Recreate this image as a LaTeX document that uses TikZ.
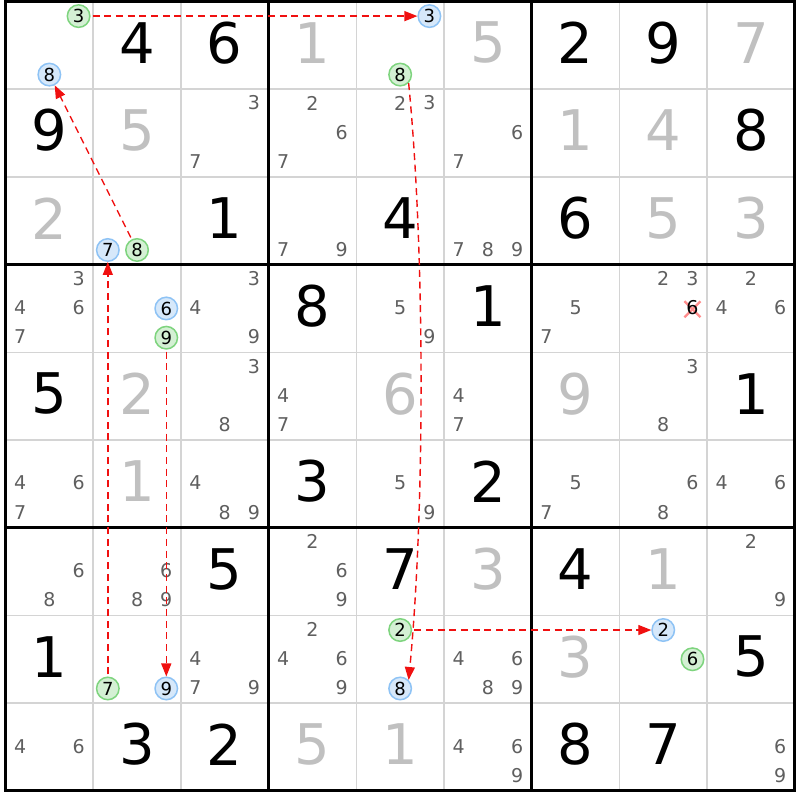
\documentclass[tikz,border=0pt]{standalone}
\usepackage{fontspec}
\setmainfont{DejaVu Sans}
\usetikzlibrary{arrows.meta}
\definecolor{candc}{HTML}{5F5F5F}
\definecolor{solvedc}{HTML}{C0C0C0}
\definecolor{gridc}{HTML}{D4D4D4}
\definecolor{grfill}{HTML}{D4F0D4}
\definecolor{grline}{HTML}{7ED47E}
\definecolor{blfill}{HTML}{D6E8FA}
\definecolor{blline}{HTML}{8EC3F5}
\definecolor{chainc}{HTML}{F01010}
\def\xo{5.5}
\def\yo{1.5}
\def\cs{87.7}
\newcommand\sgGiven[3]{\node[givenst] (g#1#2) at ({\xo+(#2-0.5)*\cs},{\yo+(#1-0.5)*\cs}) {#3};}
\newcommand\sgSolved[3]{\node[solvedst] (s#1#2) at ({\xo+(#2-0.5)*\cs},{\yo+(#1-0.5)*\cs}) {#3};}
\newcommand\sgCands[3]{\foreach \dd in {#3} {%
  \pgfmathtruncatemacro\co{mod(\dd-1,3)}%
  \pgfmathtruncatemacro\ro{floor((\dd-1)/3)}%
  \node[candst] (k#1#2\dd) at ({\xo+(#2-1)*\cs+(2*\co+1)*\cs/6},{\yo+(#1-1)*\cs+(2*\ro+1)*\cs/6}) {\dd};}}
\newcommand\sgHl[4]{%
  \pgfmathtruncatemacro\co{mod(#4-1,3)}%
  \pgfmathtruncatemacro\ro{floor((#4-1)/3)}%
  \node[#1] (h#2#3#4) at ({\xo+(#3-1)*\cs+(2*\co+1)*\cs/6},{\yo+(#2-1)*\cs+(2*\ro+1)*\cs/6}) {#4};}
\begin{document}
\begin{tikzpicture}[x=1pt,y=-1pt,
  givenst/.style={font=\fontsize{56}{56}\selectfont, text=black, inner sep=0pt, yshift=2.5pt},
  solvedst/.style={font=\fontsize{56}{56}\selectfont, text=solvedc, inner sep=0pt, yshift=2.5pt},
  candst/.style={font=\fontsize{19}{19}\selectfont, text=candc, inner sep=0pt, yshift=0.8pt},
  hlg/.style={circle, draw=grline, fill=grfill, line width=1.5pt, minimum size=22.5pt, inner sep=0pt, font=\fontsize{18}{18}\selectfont, text=black},
  hlb/.style={circle, draw=blline, fill=blfill, line width=1.5pt, minimum size=22.5pt, inner sep=0pt, font=\fontsize{18}{18}\selectfont, text=black},
  chain/.style={draw=chainc, line width=1.4pt, dash pattern=on 7pt off 4.7pt, -{Triangle[length=13pt,width=10pt]}},
  thinline/.style={draw=gridc, line width=1.6pt},
  thickline/.style={draw=black, line width=3pt},
  xmark/.style={draw=red!45, line width=2.2pt}
]
\useasboundingbox[fill=white] (0,0) rectangle (800,800);
% grid
\foreach \i in {1,2,4,5,7,8} {
  \draw[thinline] ({\xo+\i*\cs},\yo) -- ({\xo+\i*\cs},{\yo+9*\cs});
  \draw[thinline] (\xo,{\yo+\i*\cs}) -- ({\xo+9*\cs},{\yo+\i*\cs});
}
\foreach \i in {0,3,6,9} {
  \draw[thickline] ({\xo+\i*\cs},{\yo-1.5}) -- ({\xo+\i*\cs},{\yo+9*\cs+1.5});
  \draw[thickline] ({\xo-1.5},{\yo+\i*\cs}) -- ({\xo+9*\cs+1.5},{\yo+\i*\cs});
}
% row 1
\sgGiven{1}{2}{4} \sgGiven{1}{3}{6} \sgSolved{1}{4}{1} \sgSolved{1}{6}{5}
\sgGiven{1}{7}{2} \sgGiven{1}{8}{9} \sgSolved{1}{9}{7}
% row 2
\sgGiven{2}{1}{9} \sgSolved{2}{2}{5} \sgCands{2}{3}{3,7} \sgCands{2}{4}{2,6,7}
\sgCands{2}{5}{2,3} \sgCands{2}{6}{6,7} \sgSolved{2}{7}{1} \sgSolved{2}{8}{4} \sgGiven{2}{9}{8}
% row 3
\sgSolved{3}{1}{2} \sgGiven{3}{3}{1} \sgCands{3}{4}{7,9} \sgGiven{3}{5}{4}
\sgCands{3}{6}{7,8,9} \sgGiven{3}{7}{6} \sgSolved{3}{8}{5} \sgSolved{3}{9}{3}
% row 4
\sgCands{4}{1}{3,4,6,7} \sgCands{4}{3}{3,4,9} \sgGiven{4}{4}{8} \sgCands{4}{5}{5,9}
\sgGiven{4}{6}{1} \sgCands{4}{7}{5,7} \sgCands{4}{8}{2,3} \sgCands{4}{9}{2,4,6}
\coordinate (c486) at ({\xo+7*\cs+5*\cs/6},{\yo+3*\cs+3*\cs/6});
\draw[xmark] ([shift={(-8,-7.2)}]c486) -- ([shift={(8,8.8)}]c486);
\draw[xmark] ([shift={(-8,8.8)}]c486) -- ([shift={(8,-7.2)}]c486);
\node[candst, text=black] (x486) at (c486) {6};
% row 5
\sgGiven{5}{1}{5} \sgSolved{5}{2}{2} \sgCands{5}{3}{3,8} \sgCands{5}{4}{4,7}
\sgSolved{5}{5}{6} \sgCands{5}{6}{4,7} \sgSolved{5}{7}{9} \sgCands{5}{8}{3,8} \sgGiven{5}{9}{1}
% row 6
\sgCands{6}{1}{4,6,7} \sgSolved{6}{2}{1} \sgCands{6}{3}{4,8,9} \sgGiven{6}{4}{3}
\sgCands{6}{5}{5,9} \sgGiven{6}{6}{2} \sgCands{6}{7}{5,7} \sgCands{6}{8}{6,8} \sgCands{6}{9}{4,6}
% row 7
\sgCands{7}{1}{6,8} \sgCands{7}{2}{6,8,9} \sgGiven{7}{3}{5} \sgCands{7}{4}{2,6,9}
\sgGiven{7}{5}{7} \sgSolved{7}{6}{3} \sgGiven{7}{7}{4} \sgSolved{7}{8}{1} \sgCands{7}{9}{2,9}
% row 8
\sgGiven{8}{1}{1} \sgCands{8}{3}{4,7,9} \sgCands{8}{4}{2,4,6,9} \sgCands{8}{6}{4,6,8,9}
\sgSolved{8}{7}{3} \sgGiven{8}{9}{5}
% row 9
\sgCands{9}{1}{4,6} \sgGiven{9}{2}{3} \sgGiven{9}{3}{2} \sgSolved{9}{4}{5} \sgSolved{9}{5}{1}
\sgCands{9}{6}{4,6,9} \sgGiven{9}{7}{8} \sgGiven{9}{8}{7} \sgCands{9}{9}{6,9}
% highlighted candidates
\sgHl{hlg}{1}{1}{3} \sgHl{hlb}{1}{1}{8}
\sgHl{hlb}{1}{5}{3} \sgHl{hlg}{1}{5}{8}
\sgHl{hlb}{3}{2}{7} \sgHl{hlg}{3}{2}{8}
\sgHl{hlb}{4}{2}{6} \sgHl{hlg}{4}{2}{9}
\sgHl{hlg}{8}{2}{7} \sgHl{hlb}{8}{2}{9}
\sgHl{hlg}{8}{5}{2} \sgHl{hlb}{8}{5}{8}
\sgHl{hlb}{8}{8}{2} \sgHl{hlg}{8}{8}{6}
% chain
\draw[chain, shorten <=2pt] (h113) -- (h153);
\draw[chain] (h158.-45) .. controls (425,250) and (425,510) .. (h858.45);
\draw[chain, shorten <=2pt] (h852) -- (h882);
\draw[chain, shorten <=2pt] (h827) -- (h327);
\draw[chain, shorten <=2pt] (h429) -- (h829);
\draw[chain, shorten <=2pt] (h328) -- (h118);
\end{tikzpicture}
\end{document}
